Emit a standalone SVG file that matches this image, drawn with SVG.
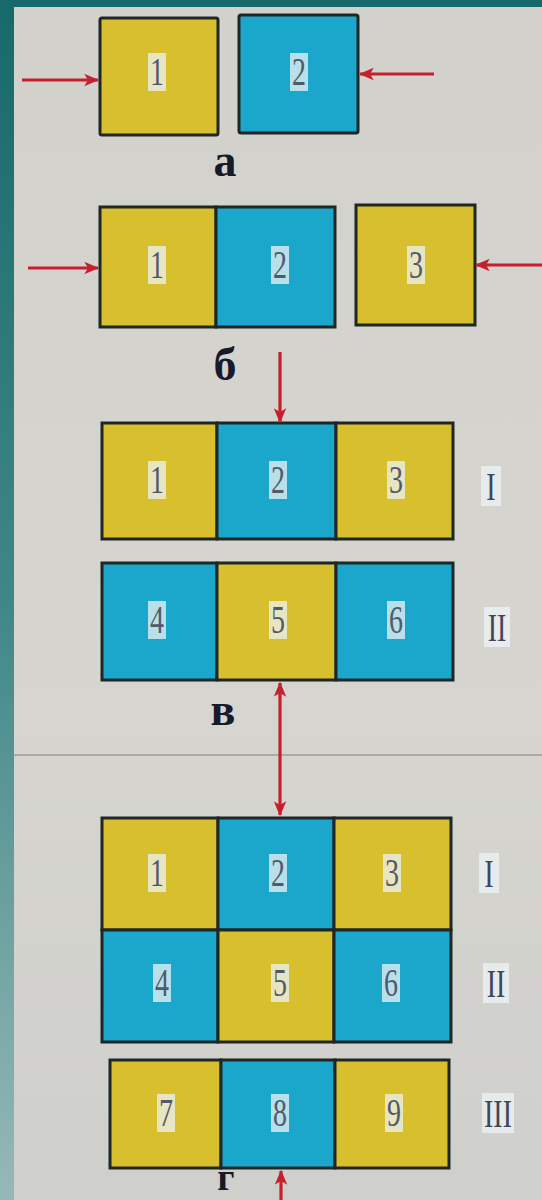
<svg xmlns="http://www.w3.org/2000/svg" width="542" height="1200" viewBox="0 0 542 1200">
<defs>
<linearGradient id="teal" x1="0" y1="0" x2="0" y2="1">
<stop offset="0" stop-color="#17696a"/>
<stop offset="0.5" stop-color="#3f8787"/>
<stop offset="1" stop-color="#97b8b8"/>
</linearGradient>
<linearGradient id="paper" x1="0" y1="0" x2="0" y2="1">
<stop offset="0" stop-color="#d2d1cb"/>
<stop offset="0.6" stop-color="#d6d5cf"/>
<stop offset="1" stop-color="#cfcfcc"/>
</linearGradient>
<marker id="ah" viewBox="0 0 12 10" refX="11" refY="5" markerWidth="15" markerHeight="13" markerUnits="userSpaceOnUse" orient="auto-start-reverse">
<path d="M0,0 L12,5 L0,10 L3,5 z" fill="#c61f2e"/>
</marker>
<style>
.y{fill:#d8bf2e;stroke:#1f2626;stroke-width:3}
.b{fill:#1ba6cc;stroke:#1f2626;stroke-width:3}
.lb{fill:#eef3f4;opacity:0.75}
.d{font-family:"Liberation Serif",serif;font-size:40px;fill:#525a6a;text-anchor:middle}
.r{font-family:"Liberation Serif",serif;font-size:40px;fill:#3e4658;text-anchor:middle}
.L{font-family:"Liberation Serif",serif;font-size:46px;font-weight:bold;fill:#161a2a;text-anchor:middle}
.ar{stroke:#c61f2e;stroke-width:3.2;fill:none;marker-end:url(#ah)}
</style>
</defs>
<rect x="0" y="0" width="542" height="1200" fill="url(#teal)"/>
<rect x="0" y="0" width="542" height="8" fill="#17696a"/>
<rect x="14" y="7" width="528" height="1193" fill="url(#paper)"/>
<line x1="14" y1="755" x2="542" y2="755" stroke="#9c9c98" stroke-width="1.5"/>

<!-- a -->
<g id="a1"><rect class="y" x="100" y="18" width="118" height="117" rx="2"/><rect class="lb" x="148" y="53" width="18" height="38"/><text class="d" transform="translate(157,72) scale(0.7,1)" y="13">1</text></g>
<g id="a2"><rect class="b" x="239" y="15" width="119" height="118" rx="2"/><rect class="lb" x="290" y="53" width="18" height="38"/><text class="d" transform="translate(299,72) scale(0.7,1)" y="13">2</text></g>
<g id="label-a"><text class="L" x="225" y="176">а</text></g>

<!-- b -->
<g id="b12"><rect class="y" x="100" y="207" width="116" height="120"/><rect class="b" x="216" y="207" width="119" height="120"/><rect class="lb" x="148" y="246" width="18" height="38"/><text class="d" transform="translate(157,265) scale(0.7,1)" y="13">1</text><rect class="lb" x="271" y="246" width="18" height="38"/><text class="d" transform="translate(280,265) scale(0.7,1)" y="13">2</text></g>
<g id="b3"><rect class="y" x="356" y="205" width="119" height="120"/><rect class="lb" x="407" y="246" width="18" height="38"/><text class="d" transform="translate(416,265) scale(0.7,1)" y="13">3</text></g>
<g id="label-b"><text class="L" x="225" y="380">б</text></g>

<!-- v -->
<g id="v1"><rect class="y" x="102" y="423" width="115" height="116"/><rect class="b" x="217" y="423" width="119" height="116"/><rect class="y" x="336" y="423" width="117" height="116"/>
<rect class="lb" x="148" y="461" width="18" height="38"/><text class="d" transform="translate(157,480) scale(0.7,1)" y="13">1</text>
<rect class="lb" x="269" y="461" width="18" height="38"/><text class="d" transform="translate(278,480) scale(0.7,1)" y="13">2</text>
<rect class="lb" x="387" y="461" width="18" height="38"/><text class="d" transform="translate(396,480) scale(0.7,1)" y="13">3</text>
<rect class="lb" x="481" y="466" width="20" height="40"/><text class="r" transform="translate(491,486) scale(0.7,1)" y="14">I</text></g>
<g id="v2"><rect class="b" x="102" y="563" width="115" height="117"/><rect class="y" x="217" y="563" width="119" height="117"/><rect class="b" x="336" y="563" width="117" height="117"/>
<rect class="lb" x="148" y="601" width="18" height="38"/><text class="d" transform="translate(157,620) scale(0.7,1)" y="13">4</text>
<rect class="lb" x="269" y="601" width="18" height="38"/><text class="d" transform="translate(278,620) scale(0.7,1)" y="13">5</text>
<rect class="lb" x="387" y="601" width="18" height="38"/><text class="d" transform="translate(396,620) scale(0.7,1)" y="13">6</text>
<rect class="lb" x="484" y="607" width="26" height="40"/><text class="r" transform="translate(497,627) scale(0.7,1)" y="14">II</text></g>
<g id="label-v"><text class="L" x="223" y="725">в</text></g>

<!-- g -->
<g id="g12"><rect class="y" x="102" y="818" width="116" height="112"/><rect class="b" x="218" y="818" width="116" height="112"/><rect class="y" x="334" y="818" width="117" height="112"/>
<rect class="b" x="102" y="930" width="116" height="112"/><rect class="y" x="218" y="930" width="116" height="112"/><rect class="b" x="334" y="930" width="117" height="112"/>
<rect class="lb" x="148" y="854" width="18" height="38"/><text class="d" transform="translate(157,873) scale(0.7,1)" y="13">1</text>
<rect class="lb" x="269" y="854" width="18" height="38"/><text class="d" transform="translate(278,873) scale(0.7,1)" y="13">2</text>
<rect class="lb" x="383" y="854" width="18" height="38"/><text class="d" transform="translate(392,873) scale(0.7,1)" y="13">3</text>
<rect class="lb" x="153" y="964" width="18" height="38"/><text class="d" transform="translate(162,983) scale(0.7,1)" y="13">4</text>
<rect class="lb" x="271" y="964" width="18" height="38"/><text class="d" transform="translate(280,983) scale(0.7,1)" y="13">5</text>
<rect class="lb" x="382" y="964" width="18" height="38"/><text class="d" transform="translate(391,983) scale(0.7,1)" y="13">6</text>
<rect class="lb" x="479" y="853" width="20" height="40"/><text class="r" transform="translate(489,873) scale(0.7,1)" y="14">I</text>
<rect class="lb" x="483" y="963" width="26" height="40"/><text class="r" transform="translate(496,983) scale(0.7,1)" y="14">II</text></g>
<g id="g3"><rect class="y" x="110" y="1060" width="111" height="108"/><rect class="b" x="221" y="1060" width="114" height="108"/><rect class="y" x="335" y="1060" width="114" height="108"/>
<rect class="lb" x="157" y="1094" width="18" height="38"/><text class="d" transform="translate(166,1113) scale(0.7,1)" y="13">7</text>
<rect class="lb" x="271" y="1094" width="18" height="38"/><text class="d" transform="translate(280,1113) scale(0.7,1)" y="13">8</text>
<rect class="lb" x="385" y="1094" width="18" height="38"/><text class="d" transform="translate(394,1113) scale(0.7,1)" y="13">9</text>
<rect class="lb" x="482" y="1093" width="32" height="40"/><text class="r" transform="translate(498,1113) scale(0.7,1)" y="14">III</text></g>
<g id="label-g"><text class="L" x="226" y="1190" style="font-size:38px">г</text></g>

<g id="connectors">
<line class="ar" x1="22" y1="80" x2="98" y2="80"/>
<line class="ar" x1="434" y1="74" x2="360" y2="74"/>
<line class="ar" x1="28" y1="268" x2="98" y2="268"/>
<line class="ar" x1="542" y1="265" x2="476" y2="265"/>
<line class="ar" x1="280" y1="352" x2="280" y2="422"/>
<line class="ar" x1="280" y1="815" x2="280" y2="683" style="marker-start:url(#ah)"/>
<line class="ar" x1="281" y1="1200" x2="281" y2="1171"/>
</g>
</svg>
